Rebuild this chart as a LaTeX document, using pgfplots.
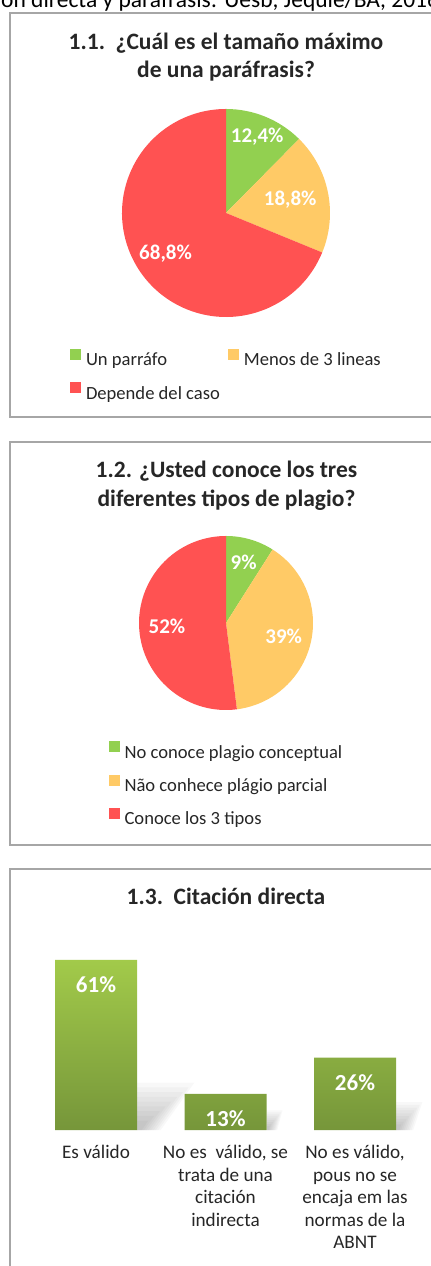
\documentclass[border=0pt]{standalone}
\usepackage{fontspec}
\setmainfont{Carlito}
\usepackage{pgfplots}
\usepackage{pgfplotstable}
\pgfplotsset{compat=1.18}
\usetikzlibrary{calc}

\definecolor{cgreen}{HTML}{92D050}
\definecolor{cyellow}{HTML}{FFCA66}
\definecolor{cred}{HTML}{FF5252}
\definecolor{txt}{HTML}{262626}
\definecolor{framec}{HTML}{A6A6A6}
\definecolor{bartop}{HTML}{A2CA4A}
\definecolor{barbot}{HTML}{76963A}

% pie 1: value, label distance (fraction of radius), colour
\pgfplotstableread{
value ld color
12.4 0.79 cgreen
18.8 0.63 cyellow
68.8 0.70 cred
}\pieone
% pie 2
\pgfplotstableread{
value ld color
9 0.73 cgreen
39 0.68 cyellow
52 0.68 cred
}\pietwo
% bars
\pgfplotstableread{
x y
0 61
1 13
2 26
}\bars

\newcommand\drawpie[2]{% #1 table, #2 radius (bp)
  \pgfplotstablegetrowsof{#1}%
  \pgfmathtruncatemacro\nrows{\pgfplotsretval-1}%
  \def\cum{0}%
  \pgfplotsforeachungrouped \pidx in {0,...,\nrows}{%
    \pgfplotstablegetelem{\pidx}{value}\of#1\let\pval\pgfplotsretval
    \pgfplotstablegetelem{\pidx}{ld}\of#1\let\pld\pgfplotsretval
    \pgfplotstablegetelem{\pidx}{color}\of#1\let\pcol\pgfplotsretval
    \pgfmathsetmacro\sa{90-3.6*\cum}%
    \pgfmathsetmacro\ea{90-3.6*(\cum+\pval)}%
    \pgfmathsetmacro\ma{(\sa+\ea)/2}%
    \pgfmathsetmacro\lr{\pld*#2}%
    \edef\temp{\noexpand\fill[\pcol] (axis cs:0,0) -- ++(\sa:#2bp) arc[start angle=\sa, end angle=\ea, radius=#2bp] -- cycle;
      \noexpand\path (axis cs:0,0) ++(\ma:\lr bp) node[pielabel]{\noexpand\pgfmathprintnumber[use comma,assume math mode=true]{\pval}\noexpand\%};}%
    \temp
    \pgfmathsetmacro\cum{\cum+\pval}%
  }%
}

% soft shadow: nested translucent wedges shrinking toward the bar's foot
\newcommand\barshadow[4]{%
  \pgfplotsinvokeforeach{1,0.9,0.8,0.7,0.6,0.5,0.4,0.3,0.2}{%
    \fill[black, fill opacity=0.028, draw=none] (#1) -- ($(#1)!##1!(#2)$) -- ($(#1)!##1!(#3)$) -- ($(#1)!##1!(#4)$) -- cycle;}%
}

\tikzset{
  pielabel/.style={text=white, font=\fontsize{21bp}{25bp}\selectfont\bfseries, inner sep=0pt},
  ttl/.style={text=txt, font=\fontsize{23.5bp}{28bp}\selectfont\bfseries, inner sep=0pt, anchor=base},
}
\pgfplotsset{
  pielegend/.style={
    legend image code/.code={\fill[##1, draw=none] (0bp,0bp) rectangle (11bp,11bp); \path[draw=none, fill=none] (14bp,0bp);},
    legend style={draw=none, fill=none, inner sep=0pt, outer sep=0pt,
      font=\fontsize{18.6bp}{22bp}\selectfont, text=txt, anchor=north west,
      legend cell align=left, row sep=13bp,
      nodes={inner sep=2bp}},
  },
}

\begin{document}
\begin{tikzpicture}
\useasboundingbox (0,0) rectangle (431bp,1266bp);
% heading above the figure, cut by the page edge as in the source
\node[anchor=base west, inner sep=0pt, text=black, font=\fontsize{23.5bp}{28bp}\selectfont] at (1bp,1258bp) {ón directa y paráfrasis: Uesb, Jequié/BA, 2016};

% panel frames
\draw[framec, line width=1.5bp] (445bp,1253bp) -- (10bp,1253bp) -- (10bp,849bp) -- (445bp,849bp);
\draw[framec, line width=1.5bp] (445bp,824bp) -- (10bp,824bp) -- (10bp,421bp) -- (445bp,421bp);
\draw[framec, line width=1.5bp] (445bp,397bp) -- (10bp,397bp) -- (10bp,-10bp);

% titles
\node[ttl] at (226bp,1216bp) {1.1.\ \ ¿Cuál es el tamaño máximo};
\node[ttl] at (226bp,1188bp) {de una paráfrasis?};
\node[ttl] at (226.5bp,788bp) {1.2. ¿Usted conoce los tres};
\node[ttl] at (226.5bp,759bp) {diferentes tipos de plagio?};
\node[ttl] at (226bp,361bp) {1.3.\ \ Citación directa};

% ---------- pie 1 ----------
\begin{axis}[at={(226bp,1053bp)}, anchor=center, scale only axis,
  width=208bp, height=208bp, xmin=-1, xmax=1, ymin=-1, ymax=1,
  hide axis, clip=false, pielegend, legend columns=2,
  legend style={at={(axis cs:-1.50,-1.31)},
    /tikz/every even column/.append style={column sep=6bp}}]
\addlegendimage{fill=cgreen}\addlegendentry{Un parráfo}
\addlegendimage{fill=cyellow}\addlegendentry{Menos de 3 lineas}
\addlegendimage{fill=cred}\addlegendentry{Depende del caso}
\drawpie{\pieone}{104}
\end{axis}

% ---------- pie 2 ----------
\begin{axis}[at={(226bp,643bp)}, anchor=center, scale only axis,
  width=174bp, height=174bp, xmin=-1, xmax=1, ymin=-1, ymax=1,
  hide axis, clip=false, pielegend,
  legend style={at={(axis cs:-1.35,-1.36)}}]
\addlegendimage{fill=cgreen}\addlegendentry{No conoce plagio conceptual}
\addlegendimage{fill=cyellow}\addlegendentry{Não conhece plágio parcial}
\addlegendimage{fill=cred}\addlegendentry{Conoce los 3 tipos}
\drawpie{\pietwo}{87}
\end{axis}

% ---------- bars ----------
\begin{axis}[at={(31.25bp,136bp)}, anchor=south west, scale only axis,
  width=388.5bp, height=181.2bp, xmin=-0.5, xmax=2.5, ymin=0, ymax=65,
  axis line style={draw=none}, ytick=\empty, xtick=data,
  major tick length=0pt, clip=false,
  /pgf/number format/assume math mode=true,
  xticklabels={Es válido, {No es\ \ válido, se\\trata de una\\citación\\indirecta}, {No es válido,\\pous no se\\encaja em las\\normas de la\\ABNT}},
  xticklabel style={align=center, text=txt, font=\fontsize{19.2bp}{22.6bp}\selectfont, anchor=north, inner sep=0pt, yshift=-15bp},
  ybar, bar width=82bp,
  nodes near coords={\pgfmathprintnumber[assume math mode=true]{\pgfplotspointmeta}\%},
  every node near coord/.append style={anchor=center, yshift=-25bp, text=white,
    font=\fontsize{23bp}{27bp}\selectfont\bfseries, inner sep=0pt},
]
% soft shadows beside the bars
\barshadow{axis cs:0.317,0}{axis cs:0.317,17}{axis cs:0.76,17}{axis cs:0.50,0}
\barshadow{axis cs:1.317,0}{axis cs:1.317,7}{axis cs:1.44,7}{axis cs:1.40,0}
\barshadow{axis cs:2.317,0}{axis cs:2.317,10}{axis cs:2.52,10}{axis cs:2.45,0}
\addplot[draw=none, top color=bartop, bottom color=barbot] table[x=x, y=y] {\bars};
\end{axis}
\end{tikzpicture}
\end{document}
